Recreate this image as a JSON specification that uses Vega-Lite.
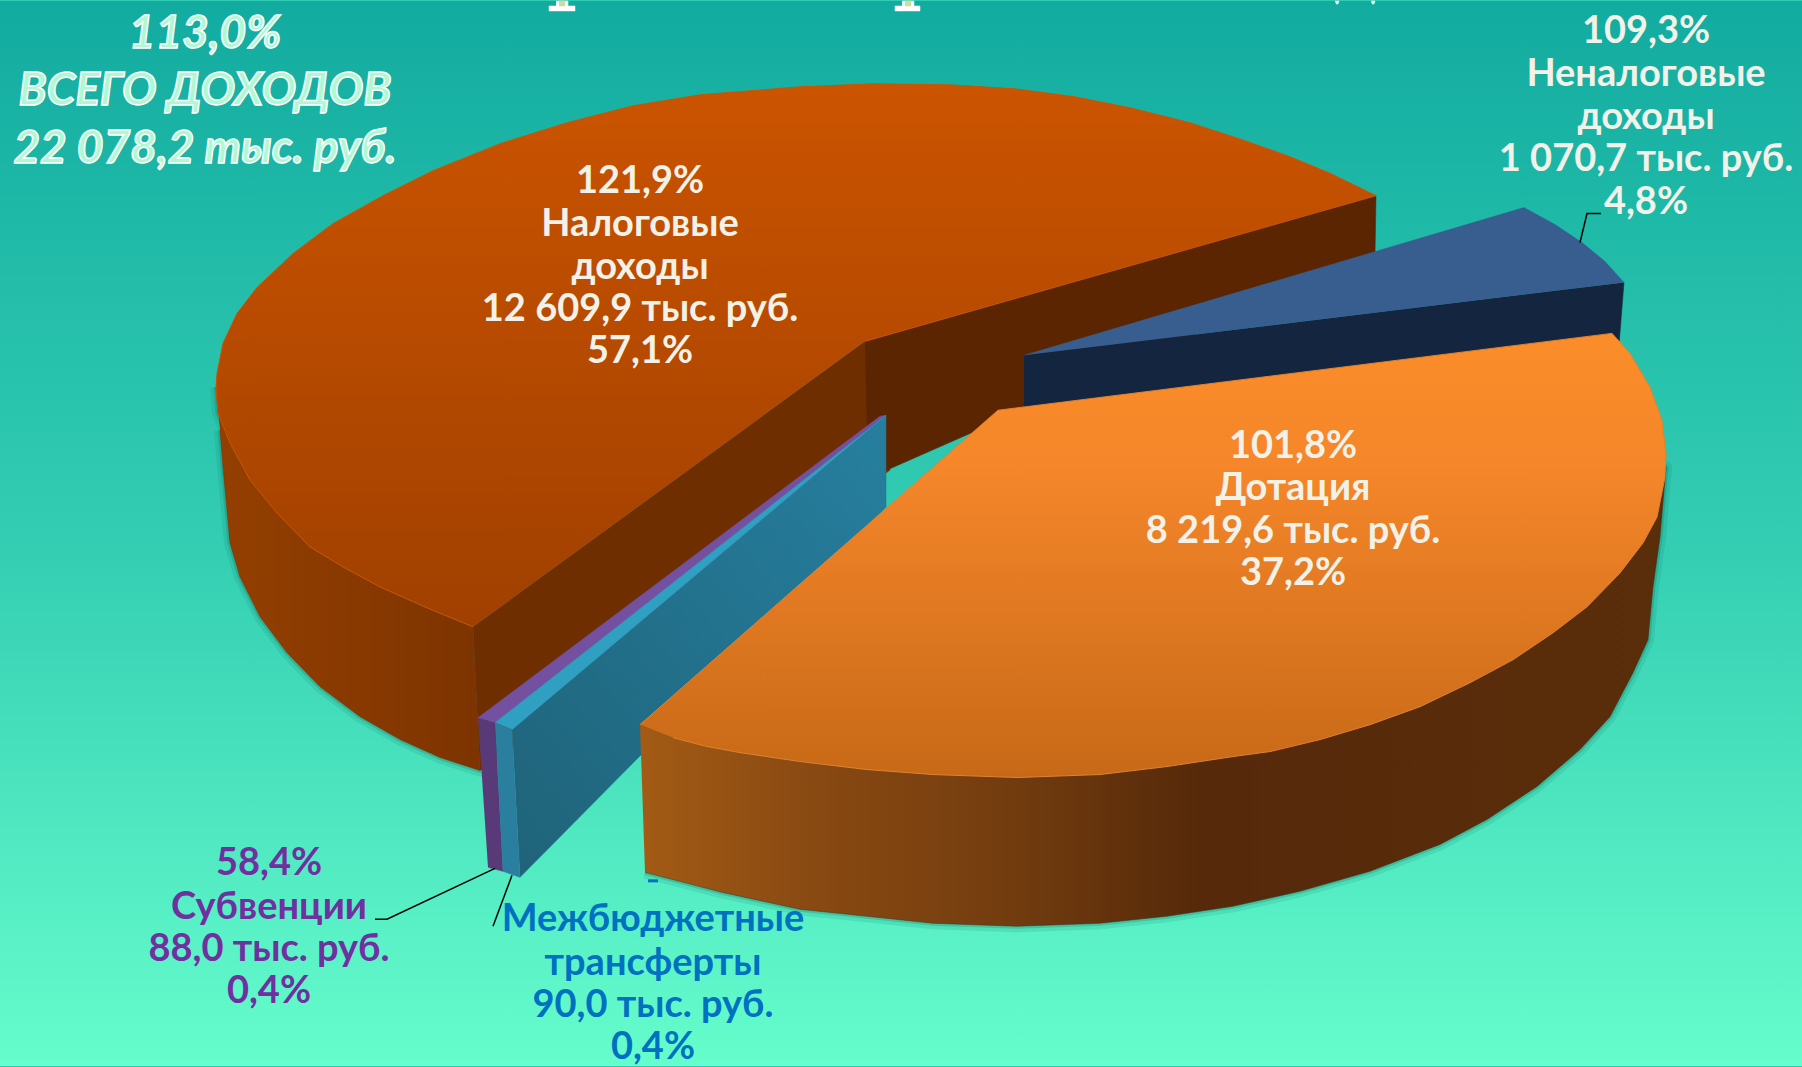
{"$schema":"https://vega.github.io/schema/vega-lite/v6.json","width":1802,"height":1067,"autosize":{"type":"fit","contains":"padding"},"padding":0,"background":"#30cbb0","config":{"view":{"stroke":null}},
"datasets":{
"bg":[{"x":0,"x2":1802,"y":0,"y2":1067}],
"shapes":[
{"part":"tax_side","i":0,"x":216,"y":387},{"part":"tax_side","i":1,"x":218,"y":413},{"part":"tax_side","i":2,"x":230,"y":443},{"part":"tax_side","i":3,"x":250,"y":480},{"part":"tax_side","i":4,"x":277,"y":513},{"part":"tax_side","i":5,"x":310,"y":547},{"part":"tax_side","i":6,"x":343,"y":567},{"part":"tax_side","i":7,"x":380,"y":587},{"part":"tax_side","i":8,"x":427,"y":608},{"part":"tax_side","i":9,"x":473,"y":627},{"part":"tax_side","i":10,"x":480,"y":771},{"part":"tax_side","i":11,"x":440,"y":758},{"part":"tax_side","i":12,"x":400,"y":740},{"part":"tax_side","i":13,"x":360,"y":717},{"part":"tax_side","i":14,"x":320,"y":687},{"part":"tax_side","i":15,"x":287,"y":653},{"part":"tax_side","i":16,"x":260,"y":617},{"part":"tax_side","i":17,"x":240,"y":577},{"part":"tax_side","i":18,"x":230,"y":543},{"part":"tax_side","i":19,"x":223,"y":467},{"part":"tax_side","i":20,"x":220,"y":430},
{"part":"tax_cut_a","i":0,"x":473,"y":627},{"part":"tax_cut_a","i":1,"x":865,"y":341},{"part":"tax_cut_a","i":2,"x":890,"y":470},{"part":"tax_cut_a","i":3,"x":480,"y":771},
{"part":"tax_cut_b","i":0,"x":865,"y":341},{"part":"tax_cut_b","i":1,"x":1376,"y":195},{"part":"tax_cut_b","i":2,"x":1375,"y":255},{"part":"tax_cut_b","i":3,"x":1000,"y":420},{"part":"tax_cut_b","i":4,"x":887,"y":470},{"part":"tax_cut_b","i":5,"x":868,"y":478},
{"part":"tax_top","i":0,"x":865,"y":341},{"part":"tax_top","i":1,"x":1376,"y":195},{"part":"tax_top","i":2,"x":1331,"y":173},{"part":"tax_top","i":3,"x":1290,"y":156},{"part":"tax_top","i":4,"x":1245,"y":140},{"part":"tax_top","i":5,"x":1190,"y":122},{"part":"tax_top","i":6,"x":1130,"y":107},{"part":"tax_top","i":7,"x":1075,"y":96},{"part":"tax_top","i":8,"x":1015,"y":88},{"part":"tax_top","i":9,"x":950,"y":84},{"part":"tax_top","i":10,"x":873,"y":83},{"part":"tax_top","i":11,"x":800,"y":86},{"part":"tax_top","i":12,"x":700,"y":94},{"part":"tax_top","i":13,"x":633,"y":105},{"part":"tax_top","i":14,"x":567,"y":122},{"part":"tax_top","i":15,"x":500,"y":143},{"part":"tax_top","i":16,"x":433,"y":170},{"part":"tax_top","i":17,"x":383,"y":195},{"part":"tax_top","i":18,"x":333,"y":223},{"part":"tax_top","i":19,"x":293,"y":253},{"part":"tax_top","i":20,"x":257,"y":287},{"part":"tax_top","i":21,"x":237,"y":313},{"part":"tax_top","i":22,"x":223,"y":343},{"part":"tax_top","i":23,"x":217,"y":373},{"part":"tax_top","i":24,"x":216,"y":387},{"part":"tax_top","i":25,"x":218,"y":413},{"part":"tax_top","i":26,"x":230,"y":443},{"part":"tax_top","i":27,"x":250,"y":480},{"part":"tax_top","i":28,"x":277,"y":513},{"part":"tax_top","i":29,"x":310,"y":547},{"part":"tax_top","i":30,"x":343,"y":567},{"part":"tax_top","i":31,"x":380,"y":587},{"part":"tax_top","i":32,"x":427,"y":608},{"part":"tax_top","i":33,"x":473,"y":627},
{"part":"blue_side","i":0,"x":1024,"y":355},{"part":"blue_side","i":1,"x":1624,"y":282},{"part":"blue_side","i":2,"x":1619,"y":345},{"part":"blue_side","i":3,"x":1024,"y":412},
{"part":"blue_top","i":0,"x":1024,"y":355},{"part":"blue_top","i":1,"x":1524,"y":207},{"part":"blue_top","i":2,"x":1555,"y":224},{"part":"blue_top","i":3,"x":1582,"y":242},{"part":"blue_top","i":4,"x":1605,"y":261},{"part":"blue_top","i":5,"x":1624,"y":282},
{"part":"purple_side","i":0,"x":478,"y":718},{"part":"purple_side","i":1,"x":495,"y":723},{"part":"purple_side","i":2,"x":503,"y":872},{"part":"purple_side","i":3,"x":488,"y":868},
{"part":"purple_top","i":0,"x":478,"y":718},{"part":"purple_top","i":1,"x":880,"y":416},{"part":"purple_top","i":2,"x":886,"y":415},{"part":"purple_top","i":3,"x":495,"y":723},
{"part":"teal_side","i":0,"x":512,"y":730},{"part":"teal_side","i":1,"x":886,"y":415},{"part":"teal_side","i":2,"x":886,"y":507},{"part":"teal_side","i":3,"x":520,"y":878},
{"part":"teal_top","i":0,"x":495,"y":723},{"part":"teal_top","i":1,"x":886,"y":415},{"part":"teal_top","i":2,"x":512,"y":730},
{"part":"teal_front","i":0,"x":495,"y":723},{"part":"teal_front","i":1,"x":512,"y":730},{"part":"teal_front","i":2,"x":520,"y":878},{"part":"teal_front","i":3,"x":503,"y":872},
{"part":"dot_side","i":0,"x":640,"y":725},{"part":"dot_side","i":1,"x":707,"y":747},{"part":"dot_side","i":2,"x":800,"y":762},{"part":"dot_side","i":3,"x":933,"y":775},{"part":"dot_side","i":4,"x":1100,"y":775},{"part":"dot_side","i":5,"x":1233,"y":757},{"part":"dot_side","i":6,"x":1370,"y":725},{"part":"dot_side","i":7,"x":1470,"y":683},{"part":"dot_side","i":8,"x":1553,"y":633},{"part":"dot_side","i":9,"x":1620,"y":573},{"part":"dot_side","i":10,"x":1657,"y":517},{"part":"dot_side","i":11,"x":1666,"y":467},{"part":"dot_side","i":12,"x":1660,"y":537},{"part":"dot_side","i":13,"x":1653,"y":587},{"part":"dot_side","i":14,"x":1648,"y":640},{"part":"dot_side","i":15,"x":1633,"y":673},{"part":"dot_side","i":16,"x":1610,"y":717},{"part":"dot_side","i":17,"x":1580,"y":750},{"part":"dot_side","i":18,"x":1537,"y":787},{"part":"dot_side","i":19,"x":1487,"y":820},{"part":"dot_side","i":20,"x":1440,"y":845},{"part":"dot_side","i":21,"x":1370,"y":872},{"part":"dot_side","i":22,"x":1300,"y":892},{"part":"dot_side","i":23,"x":1233,"y":907},{"part":"dot_side","i":24,"x":1167,"y":917},{"part":"dot_side","i":25,"x":1100,"y":924},{"part":"dot_side","i":26,"x":1017,"y":927},{"part":"dot_side","i":27,"x":933,"y":924},{"part":"dot_side","i":28,"x":867,"y":917},{"part":"dot_side","i":29,"x":800,"y":910},{"part":"dot_side","i":30,"x":722,"y":893},{"part":"dot_side","i":31,"x":645,"y":873},
{"part":"dot_top","i":0,"x":640,"y":725},{"part":"dot_top","i":1,"x":998,"y":410},{"part":"dot_top","i":2,"x":1612,"y":333},{"part":"dot_top","i":3,"x":1630,"y":353},{"part":"dot_top","i":4,"x":1650,"y":387},{"part":"dot_top","i":5,"x":1662,"y":420},{"part":"dot_top","i":6,"x":1666,"y":453},{"part":"dot_top","i":7,"x":1665,"y":477},{"part":"dot_top","i":8,"x":1657,"y":517},{"part":"dot_top","i":9,"x":1643,"y":543},{"part":"dot_top","i":10,"x":1620,"y":573},{"part":"dot_top","i":11,"x":1587,"y":607},{"part":"dot_top","i":12,"x":1553,"y":633},{"part":"dot_top","i":13,"x":1513,"y":660},{"part":"dot_top","i":14,"x":1470,"y":683},{"part":"dot_top","i":15,"x":1420,"y":707},{"part":"dot_top","i":16,"x":1370,"y":725},{"part":"dot_top","i":17,"x":1320,"y":740},{"part":"dot_top","i":18,"x":1270,"y":752},{"part":"dot_top","i":19,"x":1233,"y":757},{"part":"dot_top","i":20,"x":1167,"y":767},{"part":"dot_top","i":21,"x":1100,"y":775},{"part":"dot_top","i":22,"x":1017,"y":778},{"part":"dot_top","i":23,"x":933,"y":775},{"part":"dot_top","i":24,"x":867,"y":770},{"part":"dot_top","i":25,"x":800,"y":762},{"part":"dot_top","i":26,"x":740,"y":753},{"part":"dot_top","i":27,"x":707,"y":747},{"part":"dot_top","i":28,"x":673,"y":738}
],
"fragments":[
{"piece":"foot1","i":0,"x":556,"y":0},{"piece":"foot1","i":1,"x":568,"y":0},{"piece":"foot1","i":2,"x":568,"y":5},{"piece":"foot1","i":3,"x":575,"y":5},{"piece":"foot1","i":4,"x":575,"y":10},{"piece":"foot1","i":5,"x":549,"y":10},{"piece":"foot1","i":6,"x":549,"y":5},{"piece":"foot1","i":7,"x":556,"y":5},
{"piece":"foot2","i":0,"x":902,"y":0},{"piece":"foot2","i":1,"x":914,"y":0},{"piece":"foot2","i":2,"x":914,"y":5},{"piece":"foot2","i":3,"x":920,"y":5},{"piece":"foot2","i":4,"x":920,"y":10},{"piece":"foot2","i":5,"x":895,"y":10},{"piece":"foot2","i":6,"x":895,"y":5},{"piece":"foot2","i":7,"x":902,"y":5},
{"piece":"dot1","i":0,"x":1335,"y":0},{"piece":"dot1","i":1,"x":1339,"y":0},{"piece":"dot1","i":2,"x":1338,"y":3},{"piece":"dot1","i":3,"x":1336,"y":3},
{"piece":"dot2","i":0,"x":1371,"y":0},{"piece":"dot2","i":1,"x":1375,"y":0},{"piece":"dot2","i":2,"x":1374,"y":3},{"piece":"dot2","i":3,"x":1372,"y":3}
],
"stems":[
{"piece":"stem1","i":0,"x":559,"y":0},{"piece":"stem1","i":1,"x":565,"y":0},{"piece":"stem1","i":2,"x":565,"y":5},{"piece":"stem1","i":3,"x":559,"y":5},
{"piece":"stem2","i":0,"x":905,"y":0},{"piece":"stem2","i":1,"x":911,"y":0},{"piece":"stem2","i":2,"x":911,"y":5},{"piece":"stem2","i":3,"x":905,"y":5}
],
"dash":[{"i":0,"x":648,"y":881.5},{"i":1,"x":658,"y":881.5}],
"leaders":[
{"slice":"Субвенции","i":0,"x":495,"y":869},{"slice":"Субвенции","i":1,"x":387,"y":920},{"slice":"Субвенции","i":2,"x":375,"y":920},
{"slice":"Межбюджетные трансферты","i":0,"x":512,"y":876},{"slice":"Межбюджетные трансферты","i":1,"x":493,"y":927},
{"slice":"Неналоговые доходы","i":0,"x":1580,"y":242},{"slice":"Неналоговые доходы","i":1,"x":1587,"y":213},{"slice":"Неналоговые доходы","i":2,"x":1601,"y":213}
],
"labels":[
{"slice":"Налоговые доходы","line":"121,9%","x":640,"y":179},{"slice":"Налоговые доходы","line":"Налоговые","x":640,"y":222},{"slice":"Налоговые доходы","line":"доходы","x":640,"y":265},{"slice":"Налоговые доходы","line":"12 609,9 тыс. руб.","x":640,"y":308},{"slice":"Налоговые доходы","line":"57,1%","x":640,"y":350},
{"slice":"Дотация","line":"101,8%","x":1293,"y":445},{"slice":"Дотация","line":"Дотация","x":1293,"y":487},{"slice":"Дотация","line":"8 219,6 тыс. руб.","x":1293,"y":530},{"slice":"Дотация","line":"37,2%","x":1293,"y":572},
{"slice":"Неналоговые доходы","line":"109,3%","x":1646,"y":29},{"slice":"Неналоговые доходы","line":"Неналоговые","x":1646,"y":72},{"slice":"Неналоговые доходы","line":"доходы","x":1646,"y":115},{"slice":"Неналоговые доходы","line":"1 070,7 тыс. руб.","x":1646,"y":157},{"slice":"Неналоговые доходы","line":"4,8%","x":1646,"y":200}
],
"sub":[
{"line":"58,4%","x":269,"y":863},{"line":"Субвенции","x":269,"y":907},{"line":"88,0 тыс. руб.","x":269,"y":949},{"line":"0,4%","x":269,"y":991}
],
"mezh":[
{"line":"Межбюджетные","x":653,"y":919},{"line":"трансферты","x":653,"y":963},{"line":"90,0 тыс. руб.","x":653,"y":1005},{"line":"0,4%","x":653,"y":1047}
],
"total":[
{"line":"113,0%","x":205,"y":31},{"line":"ВСЕГО ДОХОДОВ","x":205,"y":88},{"line":"22 078,2 тыс. руб.","x":205,"y":146}
]
},
"encoding":{"x":{"field":"x","type":"quantitative","scale":{"domain":[0,1802],"nice":false,"zero":false},"axis":null},"y":{"field":"y","type":"quantitative","scale":{"domain":[1067,0],"nice":false,"zero":false},"axis":null}},
"layer":[
{"data":{"name":"bg"},"mark":{"type":"rect","fill":{"gradient":"linear","x1":0,"y1":0,"x2":0,"y2":1,"stops":[{"offset":0,"color":"#12aba0"},{"offset":0.5,"color":"#32cdb2"},{"offset":1,"color":"#66fdcc"}]}},"encoding":{"x2":{"field":"x2"},"y2":{"field":"y2"}}},
{"data":{"name":"fragments"},"mark":{"type":"line","fill":"#ffffff","stroke":"#ffffff","strokeWidth":0.5},"encoding":{"detail":{"field":"piece"},"order":{"field":"i"}}},
{"data":{"name":"stems"},"mark":{"type":"line","fill":"#cfdca0","stroke":"#cfdca0","strokeWidth":0.5},"encoding":{"detail":{"field":"piece"},"order":{"field":"i"}}},
{"data":{"name":"shapes"},"transform":[{"filter":"datum.part==='tax_side'||datum.part==='dot_side'"}],"mark":{"type":"line","stroke":"#0b6b5c","strokeWidth":12,"opacity":0.12,"strokeJoin":"round"},"encoding":{"detail":{"field":"part"},"order":{"field":"i"}}},
{"data":{"name":"shapes"},"transform":[{"filter":"datum.part==='tax_side'||datum.part==='dot_side'"}],"mark":{"type":"line","stroke":"#0b5b4c","strokeWidth":5,"opacity":0.2,"strokeJoin":"round"},"encoding":{"detail":{"field":"part"},"order":{"field":"i"}}},
{"data":{"name":"shapes"},"transform":[{"filter":"datum.part==='tax_side'"}],"mark":{"type":"line","fill":{"gradient":"linear","x1":0,"y1":0,"x2":1,"y2":0,"stops":[{"offset":0,"color":"#943f00"},{"offset":1,"color":"#7d3400"}]},"stroke":"#7a3300","strokeWidth":0.5},"encoding":{"order":{"field":"i"}}},
{"data":{"name":"shapes"},"transform":[{"filter":"datum.part==='tax_cut_a'"}],"mark":{"type":"line","fill":"#6f2e00","stroke":"#6f2e00","strokeWidth":0.5},"encoding":{"order":{"field":"i"}}},
{"data":{"name":"shapes"},"transform":[{"filter":"datum.part==='tax_cut_b'"}],"mark":{"type":"line","fill":"#5a2500","stroke":"#5a2500","strokeWidth":0.5},"encoding":{"order":{"field":"i"}}},
{"data":{"name":"shapes"},"transform":[{"filter":"datum.part==='blue_side'"}],"mark":{"type":"line","fill":"#14263f","stroke":"#14263f","strokeWidth":0.5},"encoding":{"order":{"field":"i"}}},
{"data":{"name":"shapes"},"transform":[{"filter":"datum.part==='blue_top'"}],"mark":{"type":"line","fill":"#375e8f","stroke":"#375e8f","strokeWidth":0.5},"encoding":{"order":{"field":"i"}}},
{"data":{"name":"shapes"},"transform":[{"filter":"datum.part==='tax_top'"}],"mark":{"type":"line","fill":{"gradient":"linear","x1":0,"y1":0,"x2":0,"y2":1,"stops":[{"offset":0,"color":"#cb5400"},{"offset":1,"color":"#a04000"}]},"stroke":"#c85503","strokeWidth":1},"encoding":{"order":{"field":"i"}}},
{"data":{"name":"shapes"},"transform":[{"filter":"datum.part==='purple_side'"}],"mark":{"type":"line","fill":"#583a78","stroke":"#583a78","strokeWidth":0.5},"encoding":{"order":{"field":"i"}}},
{"data":{"name":"shapes"},"transform":[{"filter":"datum.part==='purple_top'"}],"mark":{"type":"line","fill":"#7350a0","stroke":"#7350a0","strokeWidth":0.5},"encoding":{"order":{"field":"i"}}},
{"data":{"name":"shapes"},"transform":[{"filter":"datum.part==='teal_side'"}],"mark":{"type":"line","fill":{"gradient":"linear","x1":0,"y1":1,"x2":1,"y2":0,"stops":[{"offset":0,"color":"#1f6379"},{"offset":1,"color":"#267f9f"}]},"stroke":"#22708f","strokeWidth":0.5},"encoding":{"order":{"field":"i"}}},
{"data":{"name":"shapes"},"transform":[{"filter":"datum.part==='teal_top'"}],"mark":{"type":"line","fill":"#2f9fc2","stroke":"#2f9fc2","strokeWidth":0.5},"encoding":{"order":{"field":"i"}}},
{"data":{"name":"shapes"},"transform":[{"filter":"datum.part==='teal_front'"}],"mark":{"type":"line","fill":"#2a7f9e","stroke":"#2a7f9e","strokeWidth":0.5},"encoding":{"order":{"field":"i"}}},
{"data":{"name":"shapes"},"transform":[{"filter":"datum.part==='dot_side'"}],"mark":{"type":"line","fill":{"gradient":"linear","x1":0,"y1":0,"x2":1,"y2":0,"stops":[{"offset":0,"color":"#a35b15"},{"offset":0.16,"color":"#8a4a12"},{"offset":0.35,"color":"#743d0f"},{"offset":0.55,"color":"#55290a"},{"offset":1,"color":"#5b2e0a"}]},"stroke":"#4a2a10","strokeWidth":0.5},"encoding":{"order":{"field":"i"}}},
{"data":{"name":"shapes"},"transform":[{"filter":"datum.part==='dot_top'"}],"mark":{"type":"line","fill":{"gradient":"linear","x1":0,"y1":0,"x2":0,"y2":1,"stops":[{"offset":0,"color":"#fb8d29"},{"offset":0.3,"color":"#f5862a"},{"offset":1,"color":"#c76917"}]},"stroke":"#e08230","strokeWidth":1},"encoding":{"order":{"field":"i"}}},
{"data":{"name":"dash"},"mark":{"type":"line","stroke":"#0070c0","strokeWidth":3},"encoding":{"order":{"field":"i"}}},
{"data":{"name":"leaders"},"mark":{"type":"line","stroke":"#000000","strokeWidth":1.5},"encoding":{"detail":{"field":"slice"},"order":{"field":"i"}}},
{"data":{"name":"labels"},"mark":{"type":"text","font":"Lato","fontWeight":"bold","fontSize":38,"fill":"#f2f2e8","align":"center","baseline":"middle","dy":2},"encoding":{"text":{"field":"line"}}},
{"data":{"name":"sub"},"mark":{"type":"text","font":"Lato","fontWeight":"bold","fontSize":38,"fill":"#7030a0","align":"center","baseline":"middle","dy":2},"encoding":{"text":{"field":"line"}}},
{"data":{"name":"mezh"},"mark":{"type":"text","font":"Lato","fontWeight":"bold","fontSize":38,"fill":"#0070c0","align":"center","baseline":"middle","dy":2},"encoding":{"text":{"field":"line"}}},
{"data":{"name":"total"},"mark":{"type":"text","font":"Lato","fontWeight":"bold","fontStyle":"italic","fontSize":46,"fill":"#aef9d3","stroke":"#ffffff","strokeWidth":1.5,"align":"center","baseline":"middle","dy":2},"encoding":{"text":{"field":"line"}}}
]}
